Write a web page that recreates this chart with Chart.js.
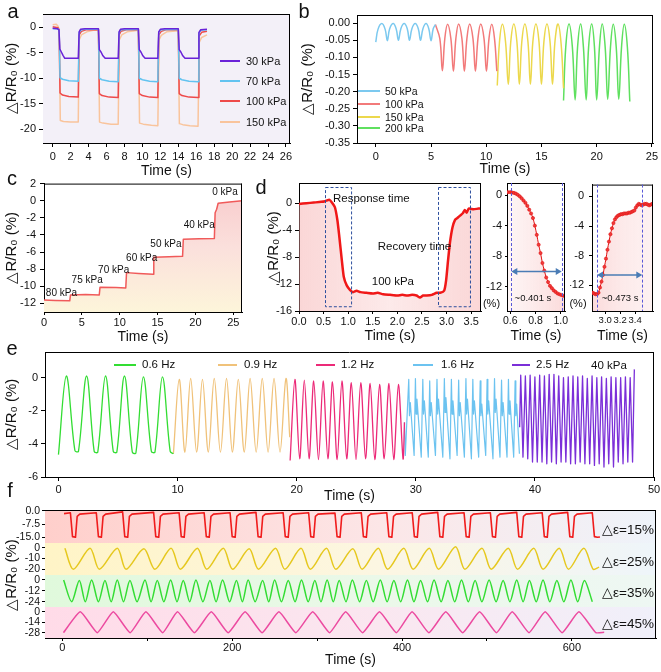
<!DOCTYPE html>
<html>
<head>
<meta charset="utf-8">
<script src="https://cdn.jsdelivr.net/npm/chart.js@4.4.1/dist/chart.umd.min.js"></script>
<style>
  html, body { margin: 0; padding: 0; background: #fff; overflow: hidden; }
  #fig { position: relative; width: 661px; height: 672px; font-family: "Liberation Sans", Arial, sans-serif; color: #111; }
  #fig canvas { position: absolute; }
  .t { position: absolute; white-space: nowrap; line-height: 1; }
  .sw { position: absolute; height: 2px; }
</style>
</head>
<body>
<div id="fig"></div>
<script>
// ---------- panel a : square response at four pressures ----------
const aLabels = ["30 kPa", "70 kPa", "100 kPa", "150 kPa"];
const aTicksX = [0, 2, 4, 6, 8, 10, 12, 14, 16, 18, 20, 22, 24, 26];
const aTicksY = [0, -5, -10, -15, -20];
const a30 = [[0,-0.2],[0.55,-0.3],[0.7,-0.5],[0.8,-4.3],[0.95,-4.8],[1.15,-5.5],[1.35,-6.1],[2.85,-6.1],[2.95,-0.9],[3.1,-0.4],[3.6,-0.3],[5.1,-0.3],[5.2,-4.4],[5.4,-4.9],[5.6,-5.6],[5.85,-6.1],[7.3,-6.1],[7.4,-0.9],[7.55,-0.4],[8.0,-0.3],[9.55,-0.3],[9.65,-4.4],[9.85,-4.9],[10.05,-5.6],[10.3,-6.1],[11.72,-6.1],[11.82,-0.9],[12.0,-0.4],[12.5,-0.3],[14.0,-0.3],[14.1,-4.4],[14.3,-4.9],[14.5,-5.6],[14.75,-6.1],[16.2,-6.1],[16.3,-1.0],[16.5,-0.5],[17.2,-0.4]];
const a70 = [[0,-0.3],[0.6,-0.3],[0.72,-0.6],[0.82,-9.9],[1.1,-10.2],[1.8,-10.5],[2.85,-10.6],[2.95,-1.0],[3.2,-0.5],[3.6,-0.4],[5.1,-0.4],[5.2,-10.0],[5.5,-10.3],[6.3,-10.6],[7.3,-10.7],[7.4,-1.0],[7.6,-0.5],[9.55,-0.4],[9.65,-10.0],[10.0,-10.3],[10.8,-10.6],[11.72,-10.7],[11.82,-1.0],[12.0,-0.5],[14.0,-0.4],[14.1,-10.0],[14.4,-10.3],[15.2,-10.6],[16.2,-10.7],[16.3,-1.2],[16.5,-0.6],[17.2,-0.5]];
const a100 = [[0,0.1],[0.6,-0.1],[0.72,-0.5],[0.82,-12.9],[1.1,-13.3],[1.8,-13.6],[2.85,-13.7],[2.95,-1.5],[3.2,-0.8],[3.7,-0.5],[5.1,-0.5],[5.2,-13.0],[5.5,-13.4],[6.3,-13.7],[7.3,-13.8],[7.4,-1.5],[7.6,-0.8],[8.2,-0.5],[9.55,-0.5],[9.65,-13.0],[10.0,-13.4],[10.8,-13.7],[11.72,-13.8],[11.82,-1.5],[12.1,-0.8],[12.6,-0.5],[14.0,-0.5],[14.1,-13.0],[14.4,-13.4],[15.2,-13.7],[16.2,-13.8],[16.3,-1.8],[16.6,-1.0],[17.2,-0.8]];
const a150 = [[0,0.5],[0.4,0.6],[0.6,0.2],[0.72,-0.5],[0.85,-18.3],[1.2,-18.5],[2.0,-18.6],[2.85,-18.6],[2.95,-2.5],[3.2,-1.5],[3.8,-0.9],[4.5,-0.6],[5.1,-0.6],[5.22,-18.6],[5.6,-18.8],[6.5,-19.0],[7.3,-19.0],[7.42,-2.5],[7.7,-1.5],[8.3,-0.9],[9.55,-0.6],[9.68,-18.8],[10.1,-19.0],[11.0,-19.2],[11.72,-19.3],[11.85,-2.5],[12.1,-1.6],[12.7,-0.9],[14.0,-0.7],[14.12,-18.9],[14.5,-19.1],[15.3,-19.3],[16.2,-19.4],[16.32,-3.0],[16.6,-2.0],[17.2,-1.5]];

// ---------- panel b : small pressures ----------
const bLabels = ["50 kPa", "100 kPa", "150 kPa", "200 kPa"];
const bTicksX = [0, 5, 10, 15, 20, 25];
const bTicksY = [0, -0.05, -0.1, -0.15, -0.2, -0.25, -0.3, -0.35];
const b50 = [[0,-0.055],[0.2,-0.018],[0.55,-0.001],[0.85,-0.018],[1.05,-0.051],[1.25,-0.017],[1.58,-0.001],[1.85,-0.017],[2.05,-0.05],[2.27,-0.016],[2.57,-0.001],[2.85,-0.016],[3.05,-0.05],[3.27,-0.016],[3.57,-0.001],[3.85,-0.016],[4.05,-0.05],[4.27,-0.016],[4.55,-0.001],[4.8,-0.016],[5.0,-0.051],[5.2,-0.016],[5.4,-0.004]];
const b100 = [[5.4,-0.004],[5.8,-0.045],[6.03,-0.139],[6.25,-0.045],[6.5,-0.003],[6.8,-0.045],[7.03,-0.14],[7.25,-0.045],[7.5,-0.002],[7.8,-0.045],[8.02,-0.14],[8.25,-0.045],[8.5,-0.002],[8.8,-0.045],[9.02,-0.14],[9.25,-0.045],[9.5,-0.002],[9.8,-0.045],[10.02,-0.14],[10.25,-0.045],[10.5,-0.003],[10.75,-0.045],[10.96,-0.14]];
const b150 = [[11.0,-0.182],[11.2,-0.055],[11.47,-0.003],[11.75,-0.055],[12.0,-0.178],[12.22,-0.055],[12.5,-0.002],[12.78,-0.055],[13.0,-0.178],[13.22,-0.055],[13.5,-0.002],[13.78,-0.055],[14.0,-0.178],[14.22,-0.055],[14.5,-0.002],[14.78,-0.055],[15.0,-0.178],[15.22,-0.055],[15.5,-0.002],[15.78,-0.055],[16.0,-0.178],[16.22,-0.055],[16.5,-0.002],[16.78,-0.06],[17.0,-0.19]];
const b200 = [[17.0,-0.226],[17.2,-0.07],[17.5,-0.002],[17.8,-0.07],[18.05,-0.224],[18.27,-0.07],[18.55,-0.002],[18.8,-0.07],[19.05,-0.224],[19.27,-0.07],[19.55,-0.002],[19.8,-0.07],[20.0,-0.224],[20.25,-0.07],[20.5,-0.002],[20.77,-0.07],[21.0,-0.222],[21.25,-0.07],[21.5,-0.003],[21.77,-0.07],[22.0,-0.222],[22.25,-0.07],[22.5,-0.003],[22.78,-0.07],[23.0,-0.229]];

// ---------- panel c : stepwise unloading ----------
const cTicksX = [0, 5, 10, 15, 20, 25];
const cTicksY = [2, 0, -2, -4, -6, -8, -10, -12];
const cSteps = [[0,-11.6],[1.5,-11.65],[3.4,-11.7],[3.5,-11.0],[5.5,-10.95],[7.3,-11.0],[7.4,-10.1],[9.5,-10.15],[10.8,-10.2],[10.9,-8.4],[12.5,-8.5],[14.4,-8.6],[14.5,-6.6],[16.5,-6.55],[18.3,-6.5],[18.4,-4.5],[20.5,-4.45],[22.5,-4.4],[22.6,-1.4],[22.8,-1.0],[23.0,-0.3],[24.5,-0.15],[26.2,0.0]];
const cLevels = ["80 kPa", "75 kPa", "70 kPa", "60 kPa", "50 kPa", "40 kPa", "0 kPa"];

// ---------- panel d : response / recovery ----------
const dTicksX = [0, 0.5, 1, 1.5, 2, 2.5, 3, 3.5];
const dTicksY = [0, -4, -8, -12, -16];
const dMain = [[0,-0.1],[0.15,0.0],[0.3,0.1],[0.45,0.2],[0.53,0.3],[0.62,0.5],[0.68,0.0],[0.73,-0.6],[0.78,-2.5],[0.82,-5.0],[0.87,-8.4],[0.91,-10.9],[0.97,-12.2],[1.04,-12.9],[1.1,-13.2],[1.17,-13.0],[1.25,-13.2],[1.37,-13.3],[1.5,-13.4],[1.6,-13.3],[1.71,-13.5],[1.85,-13.6],[2.0,-13.7],[2.1,-13.6],[2.2,-13.7],[2.3,-13.6],[2.39,-13.7],[2.46,-14.0],[2.52,-13.7],[2.6,-13.7],[2.7,-13.6],[2.8,-13.3],[2.87,-13.3],[2.95,-13.0],[2.99,-11.5],[3.03,-8.5],[3.07,-5.8],[3.12,-3.6],[3.17,-2.5],[3.22,-2.2],[3.28,-1.8],[3.33,-1.5],[3.37,-1.0],[3.41,-1.4],[3.45,-0.8],[3.55,-0.9],[3.65,-0.8],[3.7,-0.8]];
const d1TicksX = [0.6, 0.8, 1.0];
const d2TicksX = [3.0, 3.2, 3.4];
const dSubTicksY = [0, -4, -8, -12];
const dResp = [[0.58,0.4],[0.6,0.4],[0.615,0.35],[0.63,0.3],[0.645,0.2],[0.66,0.05],[0.675,-0.15],[0.69,-0.4],[0.705,-0.7],[0.72,-1.0],[0.735,-1.4],[0.75,-1.9],[0.765,-2.4],[0.78,-3.0],[0.795,-4.0],[0.81,-5.2],[0.825,-6.5],[0.84,-7.6],[0.855,-8.9],[0.87,-9.9],[0.885,-10.8],[0.9,-11.4],[0.915,-11.9],[0.93,-12.2],[0.945,-12.5],[0.96,-12.7],[0.975,-12.9],[0.99,-13.0],[1.005,-13.1],[1.02,-13.2],[1.035,-13.2]];
const dRec = [[2.83,-13.0],[2.85,-13.1],[2.87,-13.2],[2.89,-13.2],[2.91,-13.0],[2.93,-12.3],[2.95,-11.5],[2.97,-10.6],[2.99,-9.5],[3.01,-8.4],[3.03,-7.2],[3.05,-6.1],[3.07,-5.1],[3.09,-4.3],[3.11,-3.6],[3.13,-3.1],[3.15,-2.8],[3.17,-2.6],[3.19,-2.5],[3.21,-2.4],[3.23,-2.4],[3.25,-2.3],[3.27,-2.3],[3.29,-2.3],[3.31,-2.2],[3.33,-2.2],[3.35,-2.1],[3.37,-2.0],[3.39,-1.9],[3.41,-1.5],[3.43,-1.2],[3.45,-1.0],[3.47,-1.1],[3.49,-1.2],[3.51,-1.1],[3.53,-1.0],[3.55,-1.0],[3.57,-1.1],[3.59,-1.2],[3.61,-1.1],[3.63,-1.0]];

// ---------- panel e : frequencies at 40 kPa ----------
const eLabels = ["0.6 Hz", "0.9 Hz", "1.2 Hz", "1.6 Hz", "2.5 Hz"];
const eTicksX = [0, 10, 20, 30, 40, 50];
const eTicksY = [0, -2, -4, -6];
const e06 = [[0,-4.65],[0.66,0.1],[1.38,-4.4],[1.68,-4.45],[2.36,0.1],[3.0,-4.45],[3.3,-4.5],[3.95,0.1],[4.6,-4.45],[4.9,-4.5],[5.54,0.1],[6.2,-4.5],[6.5,-4.55],[7.13,0.05],[7.8,-4.45],[8.1,-4.5],[8.73,0.05],[9.38,-4.45],[9.65,-4.6]];
const e09 = [[9.65,-4.6],[10.14,-0.1],[10.62,-4.5],[11.1,-0.05],[11.6,-4.5],[12.09,-0.1],[12.58,-4.5],[13.08,-0.05],[13.6,-4.5],[14.11,-0.05],[14.6,-4.5],[15.1,-0.1],[15.6,-4.5],[16.09,-0.05],[16.6,-4.5],[17.11,-0.05],[17.6,-4.5],[18.1,-0.05],[18.6,-4.5],[19.1,-0.05],[19.42,-3.6]];
const e12 = [[19.45,-5.0],[19.85,-0.1],[20.25,-4.9],[20.64,-0.15],[21.04,-4.9],[21.43,-0.2],[21.83,-4.95],[22.22,-0.2],[22.62,-4.9],[23.01,-0.25],[23.4,-4.95],[23.8,-0.2],[24.2,-4.9],[24.59,-0.3],[24.98,-4.95],[25.38,-0.3],[25.78,-4.9],[26.17,-0.35],[26.56,-4.95],[26.96,-0.4],[27.35,-4.9],[27.75,-0.35],[28.15,-4.95],[28.54,-0.4],[28.93,-4.9],[29.05,-2.7]];
const e16 = [[29.05,-2.7],[29.12,-4.7],[29.41,-0.1],[29.47,-2.3],[29.54,-1.5],[29.86,-4.7],[29.97,-0.05],[30.03,-2.2],[30.1,-1.3],[30.46,-4.8],[30.59,-0.1],[30.65,-2.2],[30.72,-1.4],[31.05,-4.8],[31.17,-0.2],[31.23,-2.3],[31.3,-1.5],[31.65,-4.7],[31.78,-0.1],[31.84,-2.2],[31.91,-1.3],[32.27,-4.8],[32.4,-0.05],[32.46,-2.1],[32.53,-1.2],[32.87,-4.9],[32.99,-0.1],[33.05,-2.2],[33.12,-1.4],[33.47,-4.7],[33.6,-0.15],[33.66,-2.3],[33.73,-1.5],[34.08,-4.8],[34.21,-0.05],[34.27,-2.2],[34.34,-1.3],[34.67,-4.9],[34.79,-0.1],[34.85,-2.2],[34.92,-1.4],[35.28,-4.8],[35.41,-0.2],[35.47,-2.3],[35.54,-1.6],[35.87,-4.7],[35.99,-0.1],[36.05,-2.2],[36.12,-1.4],[36.48,-4.9],[36.61,-0.05],[36.67,-2.1],[36.74,-1.3],[37.07,-4.8],[37.2,-0.15],[37.26,-2.3],[37.33,-1.5],[37.66,-4.8],[37.78,-0.1],[37.84,-2.2],[37.91,-1.4],[38.22,-4.8],[38.34,-0.2],[38.4,-2.3],[38.47,-1.6],[38.7,-4.6]];
const e25 = [[38.72,-3.0],[38.81,0.15],[39.0,-4.8],[39.2,0.1],[39.4,-4.9],[39.6,0.15],[39.8,-5.1],[40.0,0.05],[40.2,-5.1],[40.4,0.15],[40.6,-5.1],[40.8,0.1],[41.0,-5.2],[41.2,0.2],[41.4,-5.1],[41.6,0.2],[41.8,-5.2],[42.0,0.1],[42.2,-5.1],[42.4,0.0],[42.6,-5.1],[42.8,0.05],[43.0,-5.2],[43.2,0.1],[43.4,-5.2],[43.6,0.05],[43.8,-5.1],[44.0,0.1],[44.2,-5.2],[44.4,-0.05],[44.6,-5.2],[44.8,0.1],[45.0,-5.3],[45.2,0.0],[45.4,-5.2],[45.6,0.05],[45.8,-5.4],[46.0,-0.05],[46.2,-5.2],[46.4,0.05],[46.6,-5.4],[46.8,0.0],[47.0,-5.1],[47.2,0.0],[47.4,-5.2],[47.6,0.05],[47.8,-5.1],[48.0,0.0],[48.2,-5.1],[48.35,0.5]];

// ---------- panel f : cyclic strain ----------
const fLabels = ["\u25B3\u03B5=15%", "\u25B3\u03B5=25%", "\u25B3\u03B5=35%", "\u25B3\u03B5=45%"];
const fTicksX = [0, 100, 200, 300, 400, 500, 600];
const fTicksY1 = [0, -7.5, -15];
const fTicksY2 = [0, -10, -20];
const fTicksY3 = [0, -12, -24];
const fTicksY4 = [0, -14, -28];
const f15 = [[2,-1.5],
  [9.5,-1.0],[12,-14.6],[15.5,-15],[17.5,-3],[20.5,-1.8],
  [40,-1.0],[42.5,-14.6],[46,-15],[48,-3],[51,-1.8],
  [71,-0.5],[73.5,-14.6],[77,-15],[79,-3],[82,-1.8],
  [107.5,-0.8],[110,-14.6],[113.5,-15],[115.5,-3],[118.5,-1.8],
  [137.5,-1.0],[140,-14.6],[143.5,-15],[145.5,-3],[148.5,-1.8],
  [167,-1.0],[169.5,-14.6],[173,-15],[175,-3],[178,-1.8],
  [197.5,-1.0],[200,-14.6],[203.5,-15],[205.5,-3],[208.5,-1.8],
  [228,-0.8],[230.5,-14.6],[234,-15],[236,-3],[239,-1.8],
  [260,-1.0],[262.5,-14.6],[266,-15],[268,-3],[271,-1.8],
  [290,-1.0],[292.5,-14.6],[296,-15],[298,-3],[301,-1.8],
  [321,-1.2],[323.5,-14.6],[327,-15],[329,-3],[332,-1.8],
  [352,-1.0],[354.5,-14.6],[358,-15],[360,-3],[363,-1.8],
  [382,-1.0],[384.5,-14.6],[388,-15],[390,-3],[393,-1.8],
  [412,-1.0],[414.5,-14.6],[418,-15],[420,-3],[423,-1.8],
  [442,-0.8],[444.5,-14.6],[448,-15],[450,-3],[453,-1.8],
  [473,-1.0],[475.5,-14.6],[479,-15],[481,-3],[484,-1.8],
  [504,-1.0],[506.5,-14.6],[510,-15],[512,-3],[515,-1.8],
  [535,-0.8],[537.5,-14.6],[541,-15],[543,-3],[546,-1.8],
  [565,-1.0],[567.5,-14.6],[571,-15],[573,-3],[576,-1.8],
  [595,-0.8],[597.5,-14.6],[601,-15],[603,-3],[606,-1.8],
  [624,-1.0],[626.5,-14.6],[630,-15],[633,-14.8]];
const f25 = [[3,-0.5],[13,-20],[32.6,-0.5],[43.6,-20],[64.7,-0.5],[75,-20],[96,-1],[109,-20],[128,-0.5],[139,-20],[159,-0.5],[170,-20],[189.5,-0.5],[200.5,-20],[220,-1],[231,-20],[251,-0.5],[262,-20],[281,-0.5],[292,-20],[311,-0.5],[322,-20],[342,-1],[353,-20],[372,-0.5],[383,-20],[402,-0.5],[413,-20],[432,-0.5],[443,-20],[463,0.8],[474,-20],[494,-0.5],[505,-20],[525,-0.5],[536,-20],[555,-0.5],[566,-20],[585,-0.5],[596,-20],[614,-0.5],[625,-20],[632,-18]];
const f35 = [[1.5,0],[11,-24],[20,-0.5],[27,-24],[34.5,0],[42.5,-24],[50.2,-0.5],[57.5,-24],[64.7,0],[72,-24],[79.6,-0.5],[88,-24],[97.3,0],[104.5,-24],[111.8,-0.5],[119.5,-24],[127.5,0],[135,-24],[142.4,-0.5],[150,-24],[157.3,0],[165.5,-24],[173.8,-0.5],[181,-24],[188.7,0],[197,-24],[205,-0.5],[212,-24],[218.8,0],[227,-24],[235.8,-0.5],[243,-24],[250,0],[258,-24],[266,-0.5],[274,-24],[281.6,0],[289.5,-24],[297.3,-0.5],[304.5,-24],[311.8,0],[319,-24],[326,-0.5],[334,-24],[341.5,0],[350,-24],[358,-0.5],[366,-24],[374.4,0],[382.4,-24],[390.4,-0.5],[398.4,-24],[406.4,0],[414,-24],[421.8,-0.5],[430,-24],[437.7,0],[446,-24],[454,-0.5],[462,-24],[470,0],[478,-24],[486,-0.5],[494,-24],[502.5,0],[510.7,-24],[519,-0.5],[527,-24],[535,0],[542.5,-24],[550,-0.5],[558,-24],[566,0],[574,-24],[582.3,-0.5],[590.5,-24],[598.8,0],[606.8,-24],[614.7,-0.5],[624,-24]];
const f45 = [[1.3,-28],[21.2,0],[41.2,-28],[60,0],[79.9,-28],[98.4,0],[118.2,-28],[135.6,0],[155.5,-28],[175.4,0],[195.3,-28],[215.2,0],[235.2,-28],[255,0],[275,-28],[294.8,0],[314.7,-28],[333.6,0],[353.5,-28],[373.4,0],[393.3,-28],[411.8,0],[431.6,-28],[451.5,0],[471.4,-28],[491.3,0],[511.2,-28],[529.7,0],[549.5,-28],[568.5,0],[588.4,-28],[608.2,0],[628.1,-28],[638,-27.5]];

// ---------- helpers ----------
const FF = '"Liberation Sans", Arial, sans-serif';
Chart.defaults.font.family = FF;
Chart.defaults.font.size = 11;
Chart.defaults.color = "#111";
const fig = document.getElementById("fig");
const P = arr => arr.map(([x, y]) => ({ x, y }));
const YT = "\u25B3R/R\u2080 (%)";
const f0 = v => String(Math.round(v));
const f1 = v => v.toFixed(1);
const f2 = v => v.toFixed(2);

function txt(s, x, y, size, o = {}) {
  const d = document.createElement("div");
  d.className = "t";
  d.textContent = s;
  d.style.left = x + "px";
  d.style.top = y + "px";
  d.style.fontSize = size + "px";
  d.style.transform = `translate(${o.left ? "0" : "-50%"},-50%)` + (o.rot ? ` rotate(${o.rot}deg)` : "");
  fig.appendChild(d);
}
function sw(x1, x2, y, col) {
  const d = document.createElement("div");
  d.className = "sw";
  d.style.left = x1 + "px";
  d.style.top = (y - 1) + "px";
  d.style.width = (x2 - x1) + "px";
  d.style.background = col;
  fig.appendChild(d);
}

function scale(min, max, ticks, fmt, o = {}) {
  return {
    type: "linear", min, max, bounds: "data",
    display: o.display !== false,
    border: { color: "#000", width: 1 },
    grid: { drawOnChartArea: false, drawTicks: true, tickLength: o.tl ?? 4, color: "#000" },
    afterBuildTicks: s => { s.ticks = ticks.map(v => ({ value: v })); },
    ticks: { autoSkip: false, maxRotation: 0, minRotation: 0, padding: o.pad ?? 3, color: "#111", font: { size: o.fs || 11 }, callback: fmt },
    title: o.title ? { display: true, text: o.title, color: "#111", font: { size: o.ts || 14 }, padding: o.tpad || 0 } : { display: false },
  };
}

// decorations drawn through the chart's own scales
function deco(o) {
  return {
    id: "deco",
    beforeDatasetsDraw(ch) {
      if (!o.bg) return;
      const { ctx, chartArea: a } = ch;
      ctx.save();
      const g = ctx.createLinearGradient(a.left, 0, a.right, 0);
      o.bg.forEach(([s, c]) => g.addColorStop(s, c));
      ctx.fillStyle = g;
      ctx.fillRect(a.left, a.top, a.right - a.left, a.bottom - a.top);
      ctx.restore();
    },
    afterDatasetsDraw(ch) {
      const { ctx, chartArea: a, scales: { x, y } } = ch;
      const X = v => x.getPixelForValue(v), Y = v => y.getPixelForValue(v);
      ctx.save();
      ctx.strokeStyle = "#000";
      ctx.lineWidth = 1;
      const sides = o.sides ?? "tr";
      ctx.beginPath();
      if (sides.includes("t")) { ctx.moveTo(a.left, a.top + 0.5); ctx.lineTo(a.right, a.top + 0.5); }
      if (sides.includes("r")) { ctx.moveTo(a.right - 0.5, a.top); ctx.lineTo(a.right - 0.5, a.bottom); }
      ctx.stroke();
      (o.boxes || []).forEach(([x1, x2, y1, y2]) => {
        ctx.setLineDash([3, 2]);
        ctx.strokeStyle = "#2d4f9e";
        ctx.strokeRect(Math.round(X(x1)) + 0.5, Math.round(Y(y2)) + 0.5, X(x2) - X(x1), Y(y1) - Y(y2));
      });
      (o.vlines || []).forEach(v => {
        ctx.setLineDash([3, 2]);
        ctx.strokeStyle = "#5858d8";
        ctx.beginPath();
        ctx.moveTo(Math.round(X(v)) + 0.5, a.top);
        ctx.lineTo(Math.round(X(v)) + 0.5, a.bottom);
        ctx.stroke();
      });
      (o.arrows || []).forEach(([x1, x2, yv]) => {
        ctx.setLineDash([]);
        ctx.strokeStyle = ctx.fillStyle = "#4a7cb5";
        ctx.lineWidth = 1.5;
        const p1 = X(x1), p2 = X(x2), py = Y(yv);
        ctx.beginPath(); ctx.moveTo(p1 + 3, py); ctx.lineTo(p2 - 3, py); ctx.stroke();
        ctx.beginPath(); ctx.moveTo(p1, py); ctx.lineTo(p1 + 6, py - 3.5); ctx.lineTo(p1 + 6, py + 3.5); ctx.fill();
        ctx.beginPath(); ctx.moveTo(p2, py); ctx.lineTo(p2 - 6, py - 3.5); ctx.lineTo(p2 - 6, py + 3.5); ctx.fill();
      });
      (o.texts || []).forEach(([s, xv, yv, size, align]) => {
        ctx.fillStyle = "#111";
        ctx.font = `${size}px ${FF}`;
        ctx.textAlign = align || "center";
        ctx.textBaseline = "middle";
        ctx.fillText(s, X(xv), Y(yv));
      });
      ctx.restore();
    },
  };
}

function panel(g, xs, ys, datasets, d) {
  const tp = g.tp ?? 10, rp = g.rp ?? 10, bp = g.bp ?? 0;
  const c = document.createElement("canvas");
  c.width = g.R - g.L + g.yw + rp;
  c.height = g.B - g.T + tp + g.xh + bp;
  c.style.left = (g.L - g.yw) + "px";
  c.style.top = (g.T - tp) + "px";
  fig.appendChild(c);
  xs.afterFit = s => { s.height = g.xh; };
  ys.afterFit = s => { s.width = g.yw; };
  return new Chart(c, {
    type: "line",
    data: { datasets },
    options: {
      responsive: false, animation: false, devicePixelRatio: 1,
      layout: { padding: { top: tp, right: rp, bottom: bp, left: 0 } },
      plugins: { legend: { display: false }, tooltip: { enabled: false } },
      elements: { point: { radius: 0 }, line: { borderWidth: 1.5, borderJoinStyle: "round" } },
      scales: { x: xs, y: ys },
    },
    plugins: [deco(d || {})],
  });
}
const line = (data, color, o = {}) => Object.assign({ data: P(data), borderColor: color, fill: false, tension: 0 }, o);

// ---------- a ----------
const aColors = ["#6a22d8", "#62c3f0", "#ee4a4a", "#f9c49c"];
panel({ L: 43, T: 14, R: 290, B: 143, yw: 43, xh: 38 },
  scale(-1.08, 26.45, aTicksX, f0, { title: "Time (s)", tpad: 1 }),
  scale(-22.7, 2.6, aTicksY, f0, { title: YT, ts: 15, tpad: 3 }),
  [a30, a70, a100, a150].map((s, i) => line(s, aColors[i], { label: aLabels[i] })),
  { sides: "tr", bg: [[0, "#f3f0f8"], [1, "#f3f0f8"]] });
[60.5, 81, 101, 121.5].forEach((y, i) => { sw(220, 240, y, aColors[i]); txt(aLabels[i], 246, y, 11, { left: true }); });

// ---------- b ----------
const bColors = ["#7cc9ef", "#f27a7a", "#ecd84c", "#5fe05f"];
panel({ L: 357, T: 15, R: 653, B: 143, yw: 59, xh: 36 },
  scale(-1.7, 25.1, bTicksX, f0, { title: "Time (s)", tpad: 1 }),
  scale(-0.35, 0.024, bTicksY, f2, { title: YT, ts: 15, tpad: 1 }),
  [b50, b100, b150, b200].map((s, i) => line(s, bColors[i], { label: bLabels[i], tension: 0.4 })),
  { sides: "tr" });
[90.7, 104.3, 116.7, 128.3].forEach((y, i) => { sw(358, 380, y, bColors[i]); txt(bLabels[i], 385, y, 10.5, { left: true }); });

// ---------- c ----------
panel({ L: 44, T: 183, R: 242, B: 312, yw: 44, xh: 36 },
  scale(0, 26.15, cTicksX, f0, { title: "Time (s)", tpad: 2, tl: 3, pad: 1 }),
  scale(-13, 2, cTicksY, f0, { title: YT, ts: 15, tpad: 3, pad: 4 }),
  [line(cSteps, "#f05a5a", {
    fill: "start",
    backgroundColor: ctx => {
      const a = ctx.chart.chartArea;
      if (!a) return "rgba(0,0,0,0)";
      const g = ctx.chart.ctx.createLinearGradient(0, a.top, 0, a.bottom);
      g.addColorStop(0, "#f8c9cb"); g.addColorStop(0.5, "#fbe0dc"); g.addColorStop(1, "#fdf5da");
      return g;
    },
  })],
  { sides: "tr", texts: [[cLevels[0], 2.3, -10.8, 10], [cLevels[1], 5.7, -9.3, 10], [cLevels[2], 9.2, -8.1, 10], [cLevels[3], 12.9, -6.75, 10], [cLevels[4], 16.1, -5.1, 10], [cLevels[5], 20.5, -2.9, 10], [cLevels[6], 23.9, 1.0, 10]] });

// ---------- d ----------
const pinkFill = (l, m, r) => ctx => {
  const a = ctx.chart.chartArea;
  if (!a) return "rgba(0,0,0,0)";
  const g = ctx.chart.ctx.createLinearGradient(a.left, 0, a.right, 0);
  g.addColorStop(0, l); g.addColorStop(0.5, m); g.addColorStop(1, r);
  return g;
};
panel({ L: 299, T: 183, R: 481, B: 311, yw: 35, xh: 36 },
  scale(0, 3.7, dTicksX, f1, { title: "Time (s)", tpad: 2, tl: 3, pad: 1 }),
  scale(-16, 3, dTicksY, f0, { title: YT, ts: 15, tpad: 1 }),
  [line(dMain, "#f01818", { borderWidth: 2.5, tension: 0.2, fill: "start", backgroundColor: pinkFill("rgba(245,165,165,0.45)", "rgba(245,170,170,0.25)", "rgba(245,165,165,0.45)") })],
  { sides: "tr", boxes: [[0.53, 1.06, -15.25, 2.45], [2.83, 3.48, -15.25, 2.45]],
    texts: [["Response time", 0.69, 0.64, 11.5, "left"], ["Recovery time", 1.6, -6.5, 11.5, "left"], ["100 kPa", 1.48, -11.7, 11.5, "left"]] });

const dot = { borderWidth: 1, pointRadius: 1.6, pointBackgroundColor: "#f03a3a", pointBorderColor: "#e01010", pointBorderWidth: 0.6, tension: 0.2 };
panel({ L: 507, T: 183, R: 565, B: 311, yw: 22, xh: 36, rp: 8 },
  scale(0.574, 1.034, d1TicksX, f1, { title: "Time (s)", tpad: 2, tl: 3, pad: 1, fs: 10.5 }),
  scale(-15.2, 1.6, dSubTicksY, f0, { tl: 2, pad: 3 }),
  [line(dResp, "#e01010", Object.assign({ fill: "start", backgroundColor: pinkFill("rgba(245,170,170,0.1)", "rgba(245,170,170,0.25)", "rgba(245,165,165,0.4)") }, dot))],
  { sides: "tr", vlines: [0.608, 1.008], arrows: [[0.608, 1.008, -10]], texts: [["~0.401 s", 0.78, -13.5, 9.5]] });
panel({ L: 592, T: 183, R: 653, B: 311, yw: 22, xh: 36, rp: 8 },
  scale(2.823, 3.64, d2TicksX, f1, { title: "Time (s)", tpad: 2, tl: 3, pad: 1, fs: 9.5 }),
  scale(-15.47, 1.6, dSubTicksY, f0, { tl: 3, pad: 5 }),
  [line(dRec, "#e01010", Object.assign({ fill: "start", backgroundColor: pinkFill("rgba(245,165,165,0.4)", "rgba(245,170,170,0.25)", "rgba(245,170,170,0.15)") }, dot))],
  { sides: "tr", vlines: [2.89, 3.497], arrows: [[2.89, 3.497, -10.6]], texts: [["~0.473 s", 3.2, -13.7, 9.5]] });
txt("(%)", 491.5, 303, 11);
txt("(%)", 578, 303, 11);

// ---------- e ----------
const eColors = ["#33dd33", "#f0c27a", "#ec2a78", "#6cc3f0", "#7b2fd8"];
panel({ L: 45, T: 352, R: 654, B: 477, yw: 45, xh: 30 },
  scale(-1.13, 50, eTicksX, f0, { title: "Time (s)", tpad: 2, tl: 4, pad: 2 }),
  scale(-6, 1.55, eTicksY, f0, { title: YT, ts: 15, tpad: 3 }),
  [line(e06, eColors[0], { tension: 0.35, borderWidth: 1.3 }), line(e09, eColors[1], { tension: 0.35, borderWidth: 1.3 }),
   line(e12, eColors[2], { tension: 0.3, borderWidth: 1.3 }), line(e16, eColors[3], { borderWidth: 1.2 }),
   line(e25, eColors[4], { borderWidth: 1.3 })],
  { sides: "tr" });
[[114, 136, 142], [218, 237, 244], [316, 335, 341], [413, 433, 441], [512, 530, 536]].forEach(([x1, x2, tx], i) => {
  sw(x1, x2, 364.5, eColors[i]); txt(eLabels[i], tx, 364.5, 11.5, { left: true });
});
txt("40 kPa", 591, 366, 11.5, { left: true });

// ---------- f ----------
const fColors = ["#f01c1c", "#e6c81e", "#33dd33", "#ec4aa0"];
const fBg = [
  [[0, "#ffcfcb"], [0.55, "#fce6e7"], [1, "#eef3fa"]],
  [[0, "#fff4c6"], [0.55, "#fcf6e2"], [1, "#eef5fa"]],
  [[0, "#e0f9dc"], [0.55, "#ebf8e9"], [1, "#eef7f3"]],
  [[0, "#ffdbe8"], [0.55, "#fae7f0"], [1, "#f0f0fa"]],
];
const fX = (show) => scale(-20.4, 699, fTicksX, v => (Math.round(v) % 200 === 0 ? String(Math.round(v)) : ""),
  show ? { title: "Time (s)", tpad: 1, tl: 3, pad: 0 } : { display: false });
panel({ L: 45, T: 510, R: 656, B: 543, yw: 45, xh: 0, bp: 10 }, fX(false),
  scale(-18.25, 0.57, fTicksY1, f1, { tl: 3, pad: 2, fs: 10.5 }),
  [line(f15, fColors[0], { borderWidth: 1.6 })], { sides: "tr", bg: fBg[0] });
panel({ L: 45, T: 543, R: 656, B: 575, yw: 45, xh: 0, bp: 10 }, fX(false),
  scale(-25.3, 4.35, fTicksY2, f0, { tl: 3, pad: 2, fs: 10.5 }),
  [line(f25, fColors[1], { tension: 0.3, borderWidth: 1.5 })], { sides: "r", bg: fBg[1] });
panel({ L: 45, T: 575, R: 656, B: 607, yw: 45, xh: 0, bp: 10 }, fX(false),
  scale(-29.9, 5.5, fTicksY3, f0, { tl: 3, pad: 2, fs: 10.5 }),
  [line(f35, fColors[2], { tension: 0.3, borderWidth: 1.5 })], { sides: "r", bg: fBg[2] });
panel({ L: 45, T: 607, R: 656, B: 638, yw: 45, xh: 32 }, fX(true),
  scale(-35.2, 6.4, fTicksY4, f0, { tl: 3, pad: 2, fs: 10.5 }),
  [line(f45, fColors[3], { tension: 0.15, borderWidth: 1.5 })], { sides: "r", bg: fBg[3] });
txt(YT, 10, 575, 15, { rot: -90 });
[530, 561.7, 593.3, 624.3].forEach((y, i) => txt(fLabels[i], 602, y, 13.5, { left: true }));

// ---------- panel letters ----------
[["a", 13, 11], ["b", 304, 11], ["c", 12, 178], ["d", 261, 187], ["e", 12, 348], ["f", 10, 490]]
  .forEach(([s, x, y]) => txt(s, x, y, 20));
</script>
</body>
</html>
